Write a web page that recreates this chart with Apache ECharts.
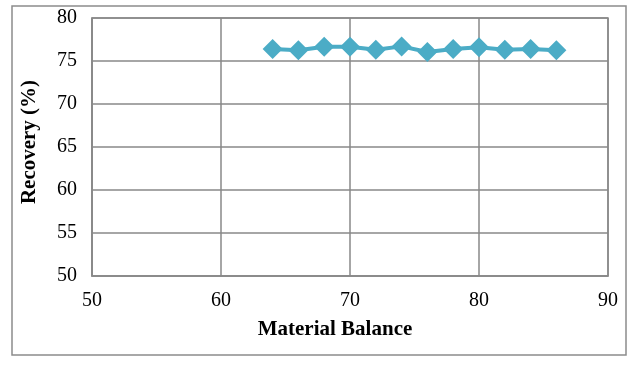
<!DOCTYPE html>
<html><head><meta charset="utf-8">
<script src="https://cdn.jsdelivr.net/npm/echarts@6/dist/echarts.min.js"></script>
<style>html,body{margin:0;padding:0;background:#fff}#c{width:636px;height:365px}</style>
</head><body><div id="c"></div>
<script>
var materialBalance = [64, 66, 68, 70, 72, 74, 76, 78, 80, 82, 84, 86];
var recovery = [76.4, 76.25, 76.65, 76.65, 76.3, 76.7, 76.05, 76.4, 76.6, 76.3, 76.4, 76.25];
var xTicks = [50, 60, 70, 80, 90];
var yTicks = [50, 55, 60, 65, 70, 75, 80];

var chart = echarts.init(document.getElementById('c'));
var font = '"Liberation Serif", "Times New Roman", serif';
var gridLine = {show: true, lineStyle: {color: '#898989', width: 1.5}};
chart.setOption({
  animation: false,
  graphic: [{type: 'rect', shape: {x: 12, y: 6, width: 614, height: 349},
    style: {fill: 'none', stroke: '#8c8c8c', lineWidth: 1.5}}],
  grid: {left: 92, right: 28, top: 18, bottom: 89, show: true, borderColor: '#898989', borderWidth: 1.5},
  xAxis: {type: 'value', min: xTicks[0], max: xTicks[xTicks.length-1], interval: 10,
    name: 'Material Balance', nameLocation: 'middle', nameGap: 43,
    nameTextStyle: {fontFamily: font, fontWeight: 'bold', fontSize: 21, color: '#000', padding: [0, 30, 0, 0]},
    axisLine: {show: true, lineStyle: {color: '#898989', width: 1.5}}, axisTick: {show: false},
    axisLabel: {fontFamily: font, fontSize: 20, color: '#000', margin: 15},
    splitLine: gridLine},
  yAxis: {type: 'value', min: yTicks[0], max: yTicks[yTicks.length-1], interval: 5,
    name: 'Recovery (%)', nameLocation: 'middle', nameGap: 52, nameRotate: 90,
    nameTextStyle: {fontFamily: font, fontWeight: 'bold', fontSize: 21, color: '#000', padding: [0, 0, 0, 10]},
    axisLine: {show: true, lineStyle: {color: '#898989', width: 1.5}}, axisTick: {show: false},
    axisLabel: {fontFamily: font, fontSize: 20, color: '#000', margin: 15},
    splitLine: gridLine},
  series: [{type: 'line', data: materialBalance.map(function(x, i){return [x, recovery[i]];}),
    symbol: 'diamond', symbolSize: [20, 20], showSymbol: true,
    lineStyle: {color: '#4BACC6', width: 4},
    itemStyle: {color: '#4BACC6'}}]
});
</script></body></html>
